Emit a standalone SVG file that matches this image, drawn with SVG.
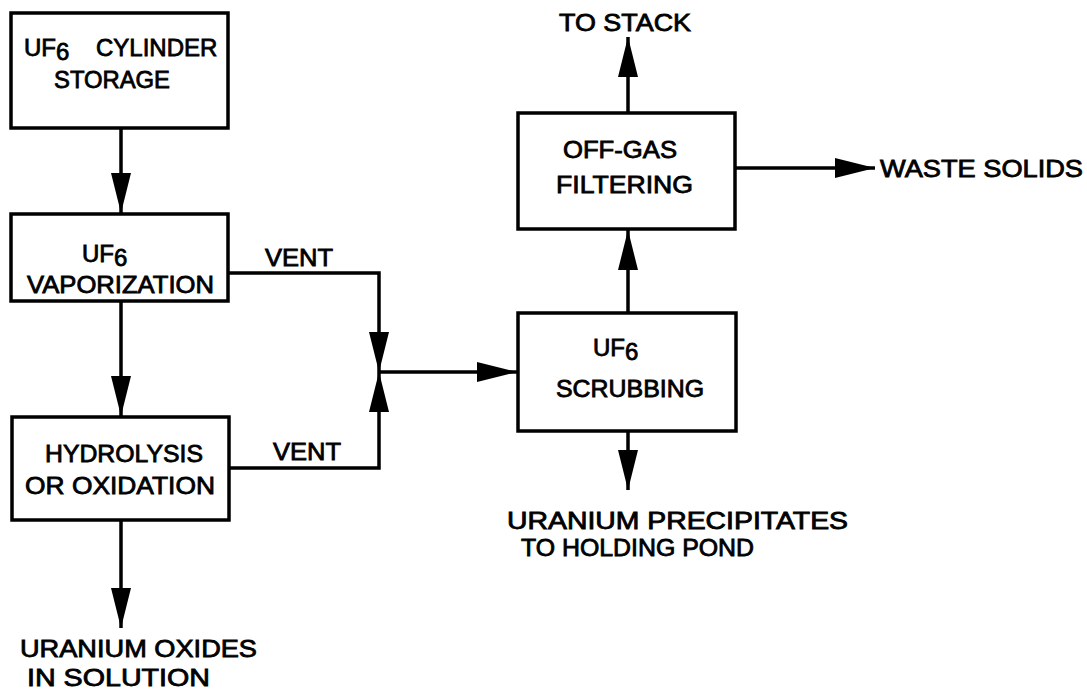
<svg xmlns="http://www.w3.org/2000/svg" width="1087" height="690" viewBox="0 0 1087 690">
<style>
.box{fill:#fff;stroke:#000;stroke-width:3.5}
.ln{fill:none;stroke:#000;stroke-width:3.5}
text{font-family:"Liberation Sans",Arial,sans-serif;font-size:24px;fill:#000;stroke:#000;stroke-width:0.8}
.sm{font-size:23px}
</style>
<defs>
<marker id="ah" viewBox="0 0 40 20" refX="40" refY="10" markerWidth="40" markerHeight="20" markerUnits="userSpaceOnUse" orient="auto">
<path d="M0,0 L40,10 L0,20 Z" fill="#000"/>
</marker>
</defs>
<rect width="1087" height="690" fill="#fff"/>
<g id="connectors">
<line class="ln" x1="121" y1="128" x2="121" y2="213" marker-end="url(#ah)"/>
<line class="ln" x1="121" y1="301" x2="121" y2="416" marker-end="url(#ah)"/>
<line class="ln" x1="121" y1="520" x2="121" y2="628" marker-end="url(#ah)"/>
<polyline class="ln" points="229,273 379,273 379,372" marker-end="url(#ah)"/>
<polyline class="ln" points="229,468 379,468 379,372" marker-end="url(#ah)"/>
<line class="ln" x1="379" y1="372" x2="517" y2="372" marker-end="url(#ah)"/>
<line class="ln" x1="628" y1="313" x2="628" y2="230" marker-end="url(#ah)"/>
<line class="ln" x1="628" y1="113" x2="628" y2="37" marker-end="url(#ah)"/>
<line class="ln" x1="735" y1="168" x2="875" y2="168" marker-end="url(#ah)"/>
<line class="ln" x1="628" y1="431" x2="628" y2="490" marker-end="url(#ah)"/>
<text x="265" y="266" textLength="68" lengthAdjust="spacingAndGlyphs">VENT</text>
<text x="273" y="460" textLength="68" lengthAdjust="spacingAndGlyphs">VENT</text>
</g>
<g id="cylinder-storage">
<rect class="box" x="11" y="13" width="217" height="115"/>
<text x="24" y="56">UF<tspan dy="4">6</tspan><tspan dy="-4" x="96">CYLINDER</tspan></text>
<text x="54" y="88" textLength="116" lengthAdjust="spacingAndGlyphs">STORAGE</text>
</g>
<g id="vaporization">
<rect class="box" x="11" y="214" width="217" height="87"/>
<text x="82" y="262">UF<tspan dy="4">6</tspan></text>
<text x="27" y="293" textLength="187" lengthAdjust="spacingAndGlyphs">VAPORIZATION</text>
</g>
<g id="hydrolysis">
<rect class="box" x="12" y="417" width="217" height="103"/>
<text x="45" y="462" textLength="158" lengthAdjust="spacingAndGlyphs">HYDROLYSIS</text>
<text x="25" y="494" textLength="190" lengthAdjust="spacingAndGlyphs">OR OXIDATION</text>
</g>
<g id="oxides-out">
<text x="20" y="657" textLength="237" lengthAdjust="spacingAndGlyphs">URANIUM OXIDES</text>
<text x="27" y="686" textLength="183" lengthAdjust="spacingAndGlyphs">IN SOLUTION</text>
</g>
<g id="scrubbing">
<rect class="box" x="518" y="313" width="218" height="118"/>
<text x="593" y="356">UF<tspan dy="4">6</tspan></text>
<text x="556" y="397" textLength="148" lengthAdjust="spacingAndGlyphs">SCRUBBING</text>
</g>
<g id="off-gas">
<rect class="box" x="518" y="113" width="217" height="116"/>
<text x="563" y="158" textLength="114" lengthAdjust="spacingAndGlyphs">OFF-GAS</text>
<text x="556" y="193" textLength="137" lengthAdjust="spacingAndGlyphs">FILTERING</text>
</g>
<g id="stack">
<text x="559" y="31" textLength="132" lengthAdjust="spacingAndGlyphs">TO STACK</text>
</g>
<g id="waste-solids">
<text x="880" y="177" textLength="203" lengthAdjust="spacingAndGlyphs">WASTE SOLIDS</text>
</g>
<g id="precipitates">
<text class="sm" x="507" y="529" textLength="341" lengthAdjust="spacingAndGlyphs">URANIUM PRECIPITATES</text>
<text class="sm" x="521" y="556" textLength="233" lengthAdjust="spacingAndGlyphs">TO HOLDING POND</text>
</g>
</svg>
